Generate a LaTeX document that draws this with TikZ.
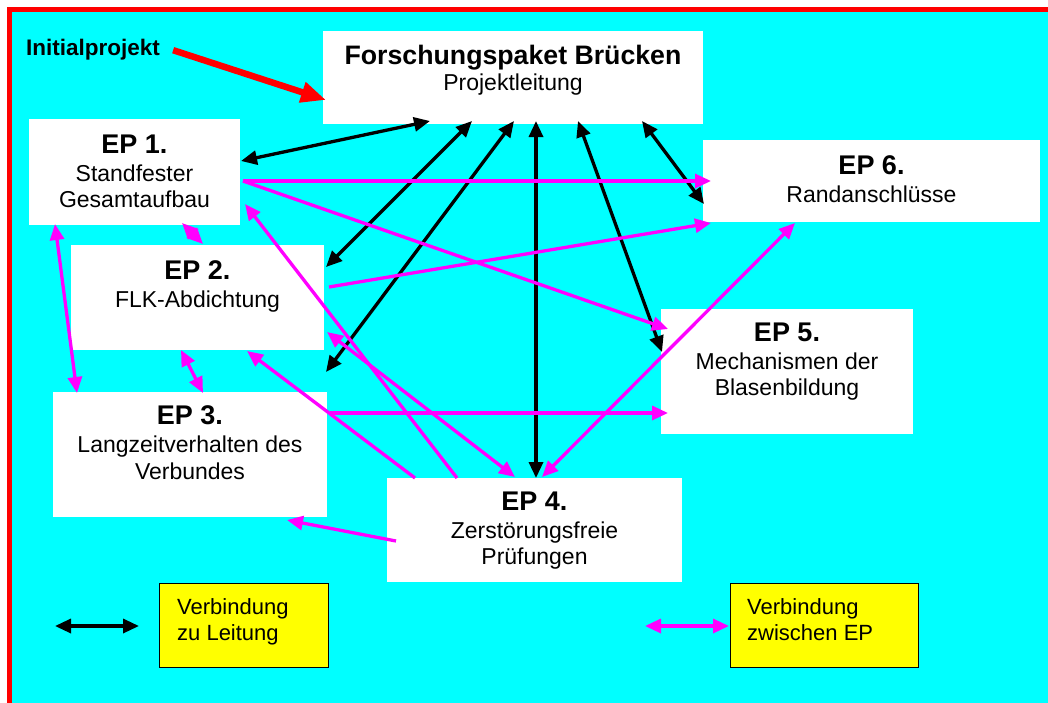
\documentclass[tikz,border=0pt]{standalone}
\usepackage{fontspec}
\setmainfont{Liberation Sans}
\usetikzlibrary{arrows.meta,calc}
\definecolor{bgcyan}{RGB}{0,255,255}
\definecolor{lnmag}{RGB}{255,0,255}
\definecolor{boxyel}{RGB}{255,255,0}
\definecolor{frred}{RGB}{255,0,0}
\newcommand\eptitle[1]{{\fontsize{27}{28}\selectfont\bfseries #1}}
\begin{document}
\begin{tikzpicture}[x=1pt,y=-1pt,
  wbox/.style={fill=white, inner sep=0pt, outer sep=0pt},
  ybox/.style={fill=boxyel, draw=black, line width=1pt, inner sep=0pt, outer sep=0pt},
  txt/.style={inner sep=0pt, align=center, anchor=north, font=\fontsize{23}{26.5}\selectfont},
  legtxt/.style={inner sep=0pt, align=left, anchor=north west, font=\fontsize{22}{26}\selectfont},
  lead/.style={draw=black, line width=3.3pt, {Triangle[length=16pt,width=14pt]}-{Triangle[length=16pt,width=14pt]}},
  link/.style={draw=lnmag, line width=3.3pt, -{Triangle[length=16pt,width=14pt]}},
  linkb/.style={draw=lnmag, line width=3.3pt, {Triangle[length=16pt,width=14pt]}-{Triangle[length=16pt,width=14pt]}},
  initarrow/.style={draw=frred, line width=6.5pt, -{Triangle[length=25pt,width=20pt]}}
]
% background and frame
\fill[white] (0,0) rectangle (1048,702);
\clip (0,0) rectangle (1048,702);
\filldraw[fill=bgcyan, draw=frred, line width=5pt] (9.5,9.5) rectangle (1075,730);

% boxes
\node[wbox, minimum width=380pt, minimum height=93pt] (fp) at (513,77.5) {};
\node[wbox, minimum width=211pt, minimum height=106pt] (ep1) at (134.5,172) {};
\node[wbox, minimum width=253pt, minimum height=105pt] (ep2) at (197.5,297.5) {};
\node[wbox, minimum width=274pt, minimum height=125pt] (ep3) at (190,454.5) {};
\node[wbox, minimum width=295pt, minimum height=104pt] (ep4) at (534.5,530) {};
\node[wbox, minimum width=252pt, minimum height=125pt] (ep5) at (787,371.5) {};
\node[wbox, minimum width=337pt, minimum height=82pt] (ep6) at (871.5,181) {};
\node[ybox, minimum width=169pt, minimum height=84pt] (leg1) at (243.5,625) {};
\node[ybox, minimum width=188pt, minimum height=84pt] (leg2) at (824,625) {};

% texts
\node[txt] (fpt) at ($(fp.north)+(0,13.5)$) {{\fontsize{26.7}{28}\selectfont\bfseries Forschungspaket Brücken}\\ Projektleitung};
\node[txt] (ep1t) at ($(ep1.north)+(0,15.7)$) {\eptitle{EP 1.}\\[1.5pt] Standfester\\ Gesamtaufbau};
\node[txt] (ep2t) at ($(ep2.north)+(0,15.7)$) {\eptitle{EP 2.}\\[1.5pt] FLK-Abdichtung};
\node[txt] (ep3t) at ($(ep3.north)+(0,13.7)$) {\eptitle{EP 3.}\\[1.5pt] Langzeitverhalten des\\ Verbundes};
\node[txt] (ep4t) at ($(ep4.north)+(0,13.7)$) {\eptitle{EP 4.}\\[1.5pt] Zerstörungsfreie\\ Prüfungen};
\node[txt] (ep5t) at ($(ep5.north)+(0,13.7)$) {\eptitle{EP 5.}\\[1.5pt] Mechanismen der\\ Blasenbildung};
\node[txt] (ep6t) at ($(ep6.north)+(0,15.7)$) {\eptitle{EP 6.}\\[1.5pt] Randanschlüsse};
\node[legtxt] (leg1t) at ($(leg1.north west)+(18,15)$) {Verbindung\\ zu Leitung};
\node[legtxt] (leg2t) at ($(leg2.north west)+(17,15)$) {Verbindung\\ zwischen EP};
\node[inner sep=0pt, anchor=base west, font=\fontsize{22.5}{26}\selectfont\bfseries] (init) at (26,55) {Initialprojekt};

% initial project arrow
\draw[initarrow] ($(init.east)+(13,1)$) -- ($(fp.west)+(3,22.5)$);

% connections to project lead (black)
\draw[lead] ($(ep1.east)+(1,-11)$) -- ($(fp.south)+(-83,-3)$);
\draw[lead] ($(fp.south)+(-41,-3)$) -- ($(ep2.east)+(2,-30.5)$);
\draw[lead] ($(fp.south)+(1,-3)$) -- ($(ep3.north east)+(-1,-20)$);
\draw[lead] ($(fp.south)+(23,-3)$) -- ($(ep4.north)+(1.5,0)$);
\draw[lead] ($(fp.south)+(65,-3)$) -- ($(ep5.north west)+(1,43)$);
\draw[lead] ($(fp.south)+(129,-3)$) -- ($(ep6.west)+(1,23)$);

% connections between EPs (magenta)
\draw[link] ($(ep1.east)+(3,9)$) -- ($(ep6.west)+(8,0)$);
\draw[link] ($(ep1.east)+(3,9)$) -- ($(ep5.north west)+(7,20)$);
\draw[link] ($(ep2.east)+(5,-10.5)$) -- ($(ep6.south west)+(8,1)$);
\draw[link] ($(ep4.north west)+(70,0)$) -- ($(ep1.south east)+(5,-21)$);
\draw[link] ($(ep4.north west)+(28,0)$) -- ($(ep2.south east)+(-77,1)$);
\draw[linkb] ($(ep2.south east)+(3,-18)$) -- ($(ep4.north west)+(128,-1)$);
\draw[linkb] ($(ep4.north west)+(155,-1)$) -- ($(ep6.south west)+(92,1)$);
\draw[link] ($(ep3.north east)+(3,21)$) -- ($(ep5.south west)+(7,-21)$);
\draw[link] ($(ep4.west)+(9,11)$) -- ($(ep3.south east)+(-40,3)$);
\draw[linkb] ($(ep1.south west)+(26,-1)$) -- ($(ep3.north west)+(24,1)$);
\draw[linkb] ($(ep1.south)+(47.5,-2)$) -- ($(ep2.north)+(5.5,-1)$);
\draw[linkb] ($(ep2.south)+(-16.5,0)$) -- ($(ep3.north)+(13,1)$);

% legend arrows
\coordinate (l1a) at (55,626);
\coordinate (l1b) at (139,626);
\coordinate (l2a) at (645,626);
\draw[lead] (l1a) -- (l1b);
\draw[linkb] (l2a) -- ($(leg2.west)+(-1,1)$);
\end{tikzpicture}
\end{document}
